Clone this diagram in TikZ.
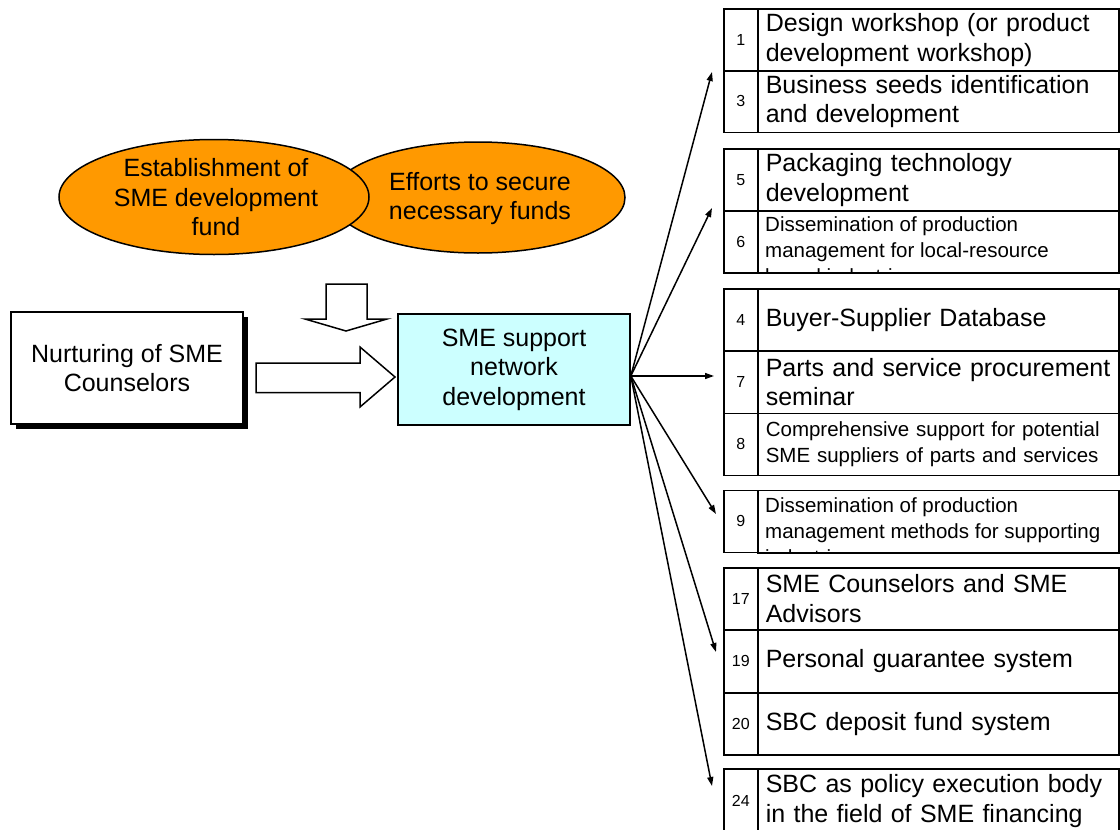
\documentclass[tikz,border=0pt]{standalone}
\usepackage{fontspec}
\setmainfont{Liberation Sans}
\usetikzlibrary{shapes.geometric,arrows.meta,shadows,calc}
\definecolor{fundorange}{HTML}{FF9900}
\definecolor{netcyan}{HTML}{CCFFFF}
\newcommand{\bigtxt}{\fontsize{25}{29.5}\selectfont}
\newcommand{\smalltxt}{\fontsize{20.5}{26}\selectfont}
\newcommand{\numtxt}{\fontsize{16}{18}\selectfont}
\begin{document}
\begin{tikzpicture}[x=1pt,y=-1pt,
  numcell/.style={draw, line width=1.6pt, minimum width=34pt, minimum height=62pt,
    anchor=north west, inner sep=0pt, font=\numtxt},
  txtcell/.style={draw, line width=1.6pt, minimum width=361pt, minimum height=62pt,
    anchor=north west, text width=345pt, inner xsep=8pt, inner ysep=0pt,
    align=left, font=\bigtxt},
  overflowtxt/.style={font=\smalltxt, align=left, anchor=west, inner xsep=8pt, inner ysep=0pt},
  fundoval/.style={ellipse, draw, fill=fundorange, line width=1.5pt, inner sep=0pt},
  mainbox/.style={draw, line width=1.6pt, minimum width=232pt, minimum height=112pt,
    font=\bigtxt, align=center},
  blockarrow/.style={draw, fill=white, line width=1.5pt, line join=miter},
  conn/.style={line width=1.5pt, -{Triangle[length=9pt,width=6pt]}}
]
\useasboundingbox (0,0) rectangle (1120,830);

% funding ovals (left one lies on top)
\node[fundoval, minimum width=294pt, minimum height=111pt] (secure) at (478,197.5) {};
\node[font=\bigtxt, align=center] (securetext) at (480,198.5) {Efforts to secure\\necessary funds};
\node[fundoval, minimum width=310pt, minimum height=115pt] (fund) at (214,197) {};
\node[font=\bigtxt, align=center] (fundtext) at (216,197.5) {Establishment of\\SME development\\fund};

% block arrows feeding the network box
\draw[blockarrow] (326,284) -- (367,284) -- (367,319) -- (387,319) -- (346,331)
  -- (305,319) -- (326,319) -- cycle;
\draw[blockarrow] (256,363) -- (360,363) -- (360,347) -- (395,377) -- (360,407)
  -- (360,392.5) -- (256,392.5) -- cycle;

% main boxes
\node[mainbox, fill=white,
  drop shadow={shadow xshift=5pt, shadow yshift=-5pt, opacity=1, fill=black}]
  (nurture) at (127,368) {Nurturing of SME\\Counselors};
\node[mainbox, fill=netcyan, minimum height=111pt] (core) at (514,369.5)
  {SME support\\network\\development};

% programme table
\node[numcell] (n1) at (723,8) {1};
\node[txtcell] (t1) at (757,8) {Design workshop (or product\\development workshop)};
\node[numcell] (n3) at (723,69.5) {3};
\node[txtcell] (t3) at (757,69.5) {Business seeds identification\\and development};

\node[numcell] (n5) at (723,148) {5};
\node[txtcell] (t5) at (757,148) {Packaging technology\\development};
\node[numcell] (n6) at (723,210) {6};
\node[txtcell] (t6) at (757,210) {};
\begin{scope}
  \clip (t6.north west) rectangle (t6.south east);
  \node[overflowtxt] (t6text) at ($(t6.west)+(0,8)$)
    {Dissemination of production\\management for local-resource\\based industries};
\end{scope}
\draw[line width=1.6pt] (t6.south west) -- (t6.south east);

\node[numcell] (n4) at (723,288) {4};
\node[txtcell] (t4) at (757,288) {Buyer-Supplier Database};
\node[numcell] (n7) at (723,350.5) {7};
\node[txtcell] (t7) at (757,350.5) {Parts and service procurement\\seminar};
\node[numcell] (n8) at (723,412.5) {8};
\node[txtcell, font=\smalltxt] (t8) at (757,412.5)
  {Comprehensive support for potential\\SME suppliers of parts and services};

\node[numcell] (n9) at (723,489.5) {9};
\node[txtcell] (t9) at (757,489.5) {};
\begin{scope}
  \clip (t9.north west) rectangle (t9.south east);
  \node[overflowtxt] (t9text) at ($(t9.west)+(0,10)$)
    {Dissemination of production\\management methods for supporting\\industries};
\end{scope}
\draw[line width=1.6pt] (t9.south west) -- (t9.south east);

\node[numcell] (n17) at (723,567) {17};
\node[txtcell] (t17) at (757,567) {SME Counselors and SME\\Advisors};
\node[numcell] (n19) at (723,629.5) {19};
\node[txtcell] (t19) at (757,629.5) {Personal guarantee system};
\node[numcell] (n20) at (723,692) {20};
\node[txtcell] (t20) at (757,692) {SBC deposit fund system};

\node[numcell, minimum height=64pt] (n24) at (723,768) {24};
\node[txtcell, minimum height=64pt] (t24) at (757,768)
  {SBC as policy execution body\\in the field of SME financing};

% fan of connectors from the network box
\coordinate (hub) at ($(core.east)+(0,6.5)$);
\coordinate (a1) at (712,72);
\coordinate (a2) at (712,208);
\coordinate (a3) at (714,376);
\coordinate (a4) at (716,514);
\coordinate (a5) at (716,652);
\coordinate (a6) at (712,786);
\draw[conn] (hub) -- (a1);
\draw[conn] (hub) -- (a2);
\draw[conn] (hub) -- (a3);
\draw[conn] (hub) -- (a4);
\draw[conn] (hub) -- (a5);
\draw[conn] (hub) -- (a6);
\end{tikzpicture}
\end{document}
